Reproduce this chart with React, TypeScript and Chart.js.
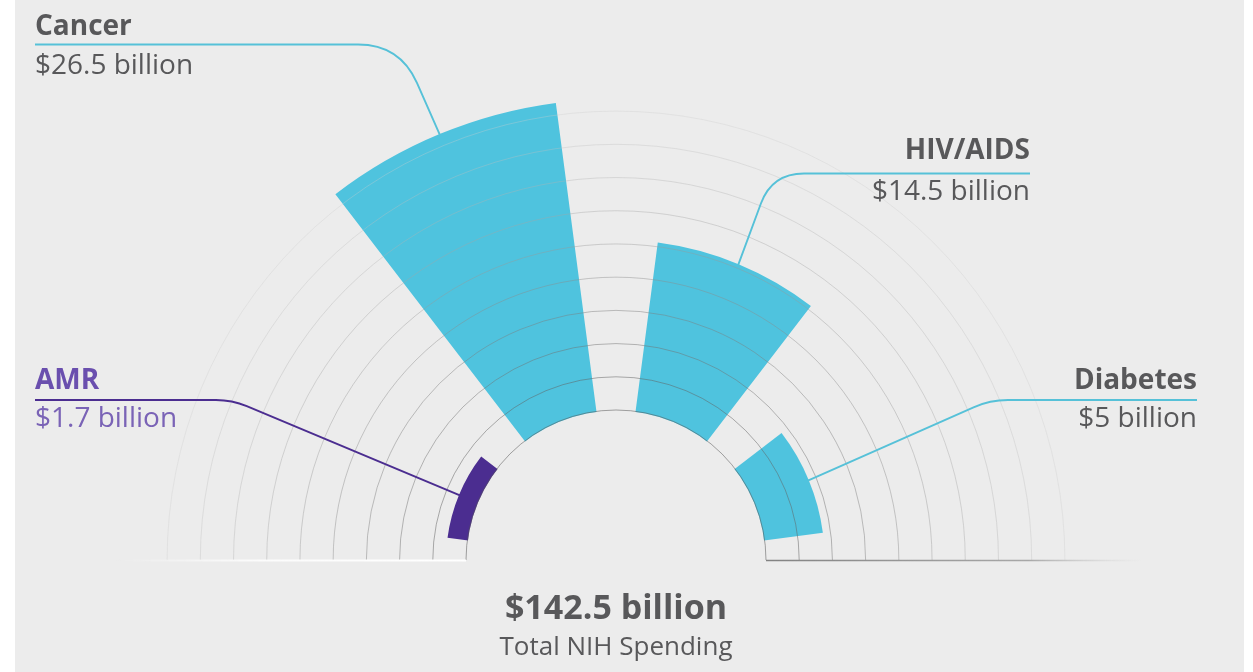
import React, { useEffect, useRef } from 'react';
import { Chart, registerables } from 'chart.js';

Chart.register(...registerables);

// ---- data ----
const categories = ['AMR', 'Cancer', 'HIV/AIDS', 'Diabetes'];
const spendingBillions = [1.7, 26.5, 14.5, 5];
const valueLabels = ['$1.7 billion', '$26.5 billion', '$14.5 billion', '$5 billion'];
const totalLabel = '$142.5 billion';
const totalCaption = 'Total NIH Spending';
const ringStep = 2.83; // billions per grid ring
const ringCount = 10;

// ---- styling ----
const W = 1253;
const H = 672;
const CANVAS_H = 1044;
const BG = '#ececec';
const CYAN = '#4fc3de';
const PURPLE = '#4b2d90';
const barColors = [PURPLE, CYAN, CYAN, CYAN];
const SEG_ANGLE = 30;
const GAP_ANGLE = 15;
const FONT = '"Open Sans", "Noto Sans", sans-serif';
const TEXT_DARK = '#58585a';

type LabelCfg = {
  align: 'left' | 'right';
  x: number;
  nameBase: number;
  valueBase: number;
  lineY: number;
  cornerX: number;
  round: number;
  nameColor: string;
  valueColor: string;
  lineColor: string;
};

const labelLayout: LabelCfg[] = [
  { align: 'left', x: 35, nameBase: 389, valueBase: 427, lineY: 400, cornerX: 232, round: 16, nameColor: '#6a4fae', valueColor: '#7a63b6', lineColor: PURPLE },
  { align: 'left', x: 35, nameBase: 35, valueBase: 74, lineY: 44.5, cornerX: 400, round: 42, nameColor: TEXT_DARK, valueColor: TEXT_DARK, lineColor: '#56c1d8' },
  { align: 'right', x: 1030, nameBase: 159, valueBase: 200, lineY: 173.5, cornerX: 772, round: 32, nameColor: TEXT_DARK, valueColor: TEXT_DARK, lineColor: '#56c1d8' },
  { align: 'right', x: 1197, nameBase: 389, valueBase: 427, lineY: 400, cornerX: 990, round: 18, nameColor: TEXT_DARK, valueColor: TEXT_DARK, lineColor: '#56c1d8' },
];

function ringColor(v: number | undefined) {
  if (v == null || v < -0.01 || v > ringStep * (ringCount - 1) + 0.01) return 'rgba(0,0,0,0)';
  const t = Math.round(v / ringStep) / (ringCount - 1);
  const g = Math.round(85 + 120 * t);
  const a = 0.52 - 0.18 * t;
  return `rgba(${g},${g},${g},${a.toFixed(3)})`;
}

function Label(props: { text: string; base: number; x: number; align: 'left' | 'right' | 'center'; size: number; bold?: boolean; color: string }) {
  const { text, base, x, align, size, bold, color } = props;
  const style: React.CSSProperties = {
    position: 'absolute',
    top: base - 0.888 * size,
    fontFamily: FONT,
    fontSize: size,
    lineHeight: `${size}px`,
    fontWeight: bold ? 700 : 400,
    color,
    whiteSpace: 'nowrap',
  };
  if (align === 'left') style.left = x;
  else if (align === 'right') { style.right = W - x; style.textAlign = 'right'; }
  else { style.left = x - 300; style.width = 600; style.textAlign = 'center'; }
  return <div style={style}>{text}</div>;
}

export default function App() {
  const ref = useRef<HTMLCanvasElement | null>(null);

  useEffect(() => {
    if (!ref.current) return;
    const labels: string[] = [];
    const values: number[] = [];
    const colors: string[] = [];
    const angles: number[] = [];
    const catIndex: number[] = [];
    categories.forEach((c, i) => {
      if (i > 0) {
        labels.push('');
        values.push(0);
        colors.push('rgba(0,0,0,0)');
        angles.push(GAP_ANGLE);
      }
      catIndex.push(labels.length);
      labels.push(c);
      values.push(spendingBillions[i]);
      colors.push(barColors[i]);
      angles.push(SEG_ANGLE);
    });

    const decor = {
      id: 'decor',
      beforeDraw(chart: any) {
        const ctx = chart.ctx;
        const s = chart.scales.r;
        ctx.save();
        ctx.beginPath();
        ctx.rect(0, 0, chart.width, s.yCenter);
        ctx.clip();
      },
      afterDatasetsDraw(chart: any) {
        const ctx = chart.ctx;
        const s = chart.scales.r;
        const r0 = s.getDistanceFromCenterForValue(0);
        ctx.save();
        ctx.fillStyle = BG;
        ctx.beginPath();
        ctx.arc(s.xCenter, s.yCenter, r0 - 0.5, 0, Math.PI * 2);
        ctx.fill();
        ctx.restore();
      },
      afterDraw(chart: any) {
        const ctx = chart.ctx;
        ctx.restore();
        const s = chart.scales.r;
        const xc = s.xCenter;
        const yc = s.yCenter;
        const r0 = s.getDistanceFromCenterForValue(0);
        // baselines
        const by = yc + 0.5;
        let g = ctx.createLinearGradient(xc + r0, 0, xc + 525, 0);
        g.addColorStop(0, 'rgba(130,130,130,1)');
        g.addColorStop(0.7, 'rgba(150,150,150,0.8)');
        g.addColorStop(1, 'rgba(200,200,200,0)');
        ctx.strokeStyle = g;
        ctx.lineWidth = 1.5;
        ctx.beginPath();
        ctx.moveTo(xc + r0, by);
        ctx.lineTo(xc + 525, by);
        ctx.stroke();
        g = ctx.createLinearGradient(xc - r0, 0, xc - 500, 0);
        g.addColorStop(0, 'rgba(255,255,255,1)');
        g.addColorStop(0.6, 'rgba(255,255,255,0.8)');
        g.addColorStop(1, 'rgba(255,255,255,0)');
        ctx.strokeStyle = g;
        ctx.lineWidth = 2;
        ctx.beginPath();
        ctx.moveTo(xc - r0, by);
        ctx.lineTo(xc - 500, by);
        ctx.stroke();

        // leader lines
        const meta = chart.getDatasetMeta(0);
        catIndex.forEach((idx, i) => {
          const el = meta.data[idx];
          const p = el.getProps(['x', 'y', 'startAngle', 'endAngle', 'outerRadius'], true);
          const mid = (p.startAngle + p.endAngle) / 2;
          const ax = p.x + Math.cos(mid) * (p.outerRadius - 1);
          const ay = p.y + Math.sin(mid) * (p.outerRadius - 1);
          const L = labelLayout[i];
          const y = L.lineY;
          const h = Math.sign(L.cornerX - L.x);
          const dx = ax - L.cornerX;
          const dy = ay - y;
          const len = Math.hypot(dx, dy);
          const ux = dx / len;
          const uy = dy / len;
          ctx.save();
          ctx.strokeStyle = L.lineColor;
          ctx.lineWidth = 1.9;
          ctx.lineJoin = 'round';
          ctx.beginPath();
          ctx.moveTo(L.x, y);
          ctx.lineTo(L.cornerX - h * L.round, y);
          ctx.quadraticCurveTo(L.cornerX, y, L.cornerX + ux * L.round, y + uy * L.round);
          ctx.lineTo(ax, ay);
          ctx.stroke();
          ctx.restore();
        });
      },
    };

    const chart = new Chart(ref.current, {
      type: 'polarArea',
      data: {
        labels,
        datasets: [
          {
            data: values,
            backgroundColor: colors,
            borderWidth: 0,
            angle: angles,
          } as any,
        ],
      },
      options: {
        responsive: false,
        animation: false,
        events: [],
        layout: { padding: { left: 136, right: 157, top: 80, bottom: 4 } },
        plugins: { legend: { display: false }, tooltip: { enabled: false } },
        scales: {
          r: {
            min: -12.78,
            max: 28.12,
            startAngle: -82.5,
            ticks: { display: false, stepSize: ringStep },
            angleLines: { display: false },
            pointLabels: { display: false },
            grid: {
              z: 1,
              lineWidth: 1,
              color: (c: any) => ringColor(c.tick ? c.tick.value : undefined),
            },
          } as any,
        },
      },
      plugins: [decor],
    });
    return () => chart.destroy();
  }, []);

  return (
    <div style={{ position: 'fixed', left: 0, top: 0, width: W, height: H, overflow: 'hidden', background: '#ffffff' }}>
      <div style={{ position: 'absolute', left: 15, top: 0, width: 1229, height: H, background: BG }} />
      <canvas ref={ref} width={W} height={CANVAS_H} style={{ position: 'absolute', left: 0, top: 0, width: W, height: CANVAS_H }} />
      {categories.map((c, i) => {
        const L = labelLayout[i];
        return (
          <React.Fragment key={c}>
            <Label text={c} base={L.nameBase} x={L.x} align={L.align} size={28} bold color={L.nameColor} />
            <Label text={valueLabels[i]} base={L.valueBase} x={L.x} align={L.align} size={28} color={L.valueColor} />
          </React.Fragment>
        );
      })}
      <Label text={totalLabel} base={619} x={616} align="center" size={34} bold color={TEXT_DARK} />
      <Label text={totalCaption} base={655} x={616} align="center" size={26} color={TEXT_DARK} />
    </div>
  );
}
